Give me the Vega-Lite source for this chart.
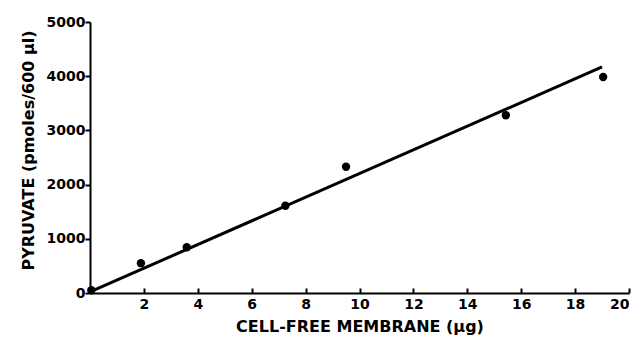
{
  "$schema": "https://vega.github.io/schema/vega-lite/v6.json",
  "autosize": "none",
  "width": 539,
  "height": 271,
  "padding": {"left": 90, "top": 22, "right": 12, "bottom": 48},
  "background": "white",
  "config": {
    "view": {"stroke": null},
    "axis": {
      "domainColor": "black", "domainWidth": 2, "tickColor": "black", "tickWidth": 2,
      "labelColor": "black", "titleColor": "black", "grid": false,
      "labelFont": "DejaVu Sans", "titleFont": "DejaVu Sans",
      "labelFontSize": 14, "titleFontSize": 16, "titleFontWeight": "bold", "labelFontWeight": "bold"
    }
  },
  "datasets": {
    "points": [
      {"membrane": 0.05, "pyruvate": 50},
      {"membrane": 1.89, "pyruvate": 550},
      {"membrane": 3.59, "pyruvate": 845},
      {"membrane": 7.25, "pyruvate": 1610},
      {"membrane": 9.5, "pyruvate": 2330},
      {"membrane": 15.43, "pyruvate": 3280},
      {"membrane": 19.04, "pyruvate": 3985}
    ],
    "fit": [
      {"membrane": 0, "pyruvate": 20},
      {"membrane": 19.0, "pyruvate": 4170}
    ]
  },
  "layer": [
    {
      "data": {"name": "fit"},
      "mark": {"type": "line", "color": "black", "strokeWidth": 3, "clip": false},
      "encoding": {
        "x": {"field": "membrane", "type": "quantitative"},
        "y": {"field": "pyruvate", "type": "quantitative"}
      }
    },
    {
      "data": {"name": "points"},
      "mark": {"type": "circle", "color": "black", "opacity": 1, "size": 70, "clip": false},
      "encoding": {
        "x": {
          "field": "membrane", "type": "quantitative",
          "scale": {"domain": [0, 20], "nice": false, "zero": true},
          "axis": {
            "values": [2, 4, 6, 8, 10, 12, 14, 16, 18, 20], "format": "d",
            "tickSize": -5, "labelPadding": 9,
            "title": "CELL-FREE MEMBRANE (μg)", "titlePadding": 7
          }
        },
        "y": {
          "field": "pyruvate", "type": "quantitative",
          "scale": {"domain": [0, 5000], "nice": false},
          "axis": {
            "values": [0, 1000, 2000, 3000, 4000, 5000], "format": "d",
            "tickSize": 5, "labelPadding": 0,
            "title": "PYRUVATE (pmoles/600 μl)", "titlePadding": 10, "titleY": 128
          }
        }
      }
    }
  ]
}
